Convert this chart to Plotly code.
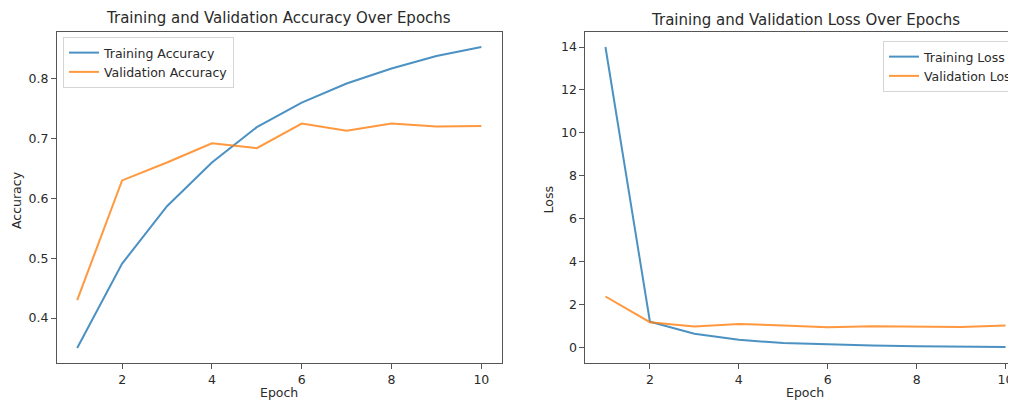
import plotly.graph_objects as go

epochs = [1, 2, 3, 4, 5, 6, 7, 8, 9, 10]
train_acc = [0.350, 0.491, 0.587, 0.660, 0.719, 0.760, 0.792, 0.817, 0.838, 0.853]
val_acc = [0.430, 0.630, 0.660, 0.692, 0.684, 0.725, 0.713, 0.725, 0.720, 0.721]
train_loss = [14.0, 1.20, 0.63, 0.35, 0.20, 0.13, 0.08, 0.05, 0.03, 0.02]
val_loss = [2.37, 1.17, 0.97, 1.09, 1.02, 0.94, 0.98, 0.96, 0.95, 1.02]

# The page body keeps an 8px margin, so the figure is drawn 8px right/down;
# layout numbers below are screen pixels, converted with OFF.
OFF = 8
W, H = 1016, 400
BLUE = "#1f77b4"
ORANGE = "#ff7f0e"
TXT = "#2a2a2a"
FONT = "DejaVu Sans"
TICK = 12.5
TITLE = 15

fig = go.Figure()
fig.add_trace(go.Scatter(x=epochs, y=train_acc, mode="lines", name="Training Accuracy",
                         line=dict(color=BLUE, width=2), opacity=0.8,
                         xaxis="x", yaxis="y", legend="legend"))
fig.add_trace(go.Scatter(x=epochs, y=val_acc, mode="lines", name="Validation Accuracy",
                         line=dict(color=ORANGE, width=2), opacity=0.8,
                         xaxis="x", yaxis="y", legend="legend"))
fig.add_trace(go.Scatter(x=epochs, y=train_loss, mode="lines", name="Training Loss",
                         line=dict(color=BLUE, width=2), opacity=0.8,
                         xaxis="x2", yaxis="y2", legend="legend2"))
fig.add_trace(go.Scatter(x=epochs, y=val_loss, mode="lines", name="Validation Loss",
                         line=dict(color=ORANGE, width=2), opacity=0.8,
                         xaxis="x2", yaxis="y2", legend="legend2"))

# screen geometry of the plotting areas
SL, ST, SB = 57, 32, 363
L = SL - OFF
T = ST - OFF
B = H - (SB - OFF)
R = 0
pw = W - L - R
ph = H - T - B

def px(sx):
    return (sx - OFF - L) / pw

def py(sy):
    return ((H - B) - (sy - OFF)) / ph

axis_common = dict(showline=True, mirror=True, linecolor="#555", linewidth=1.2,
                   ticks="outside", ticklen=5, tickcolor="#555", tickwidth=1,
                   showgrid=False, zeroline=False, automargin=False,
                   tickfont=dict(family=FONT, size=TICK, color=TXT))

def label(text, x, y, angle=0, size=TICK):
    return dict(text=text, xref="paper", yref="paper", x=px(x), y=py(y),
                xanchor="center", yanchor="middle", textangle=angle, showarrow=False,
                font=dict(family=FONT, size=size, color=TXT))

right_end = W + OFF  # screen x of the right edge of the figure
fig.update_layout(
    width=W, height=H,
    margin=dict(l=L, r=R, t=T, b=B),
    paper_bgcolor="white", plot_bgcolor="white",
    font=dict(family=FONT, color=TXT),
    xaxis=dict(domain=[0, px(502)], range=[0.55, 10.45], tickvals=[2, 4, 6, 8, 10],
               anchor="y", **axis_common),
    yaxis=dict(domain=[0, 1], range=[0.325, 0.878], tickvals=[0.4, 0.5, 0.6, 0.7, 0.8],
               ticktext=["0.4", "0.5", "0.6", "0.7", "0.8"],
               anchor="x", **axis_common),
    xaxis2=dict(domain=[px(586), 1], range=[0.55, 0.55 + (right_end - 586) / 44.5],
                tickvals=[2, 4, 6, 8, 10],
                anchor="y2", **axis_common),
    yaxis2=dict(domain=[0, 1], range=[-0.73, 14.7], tickvals=[0, 2, 4, 6, 8, 10, 12, 14],
                anchor="x2", **axis_common),
    legend=dict(x=px(63), y=py(37), xanchor="left", yanchor="top",
                bgcolor="rgba(255,255,255,0.8)", bordercolor="#d5d5d5", borderwidth=1,
                font=dict(family=FONT, size=TICK, color=TXT), tracegroupgap=0,
                itemwidth=30),
    legend2=dict(x=px(884), y=py(41), xanchor="left", yanchor="top",
                 bgcolor="rgba(255,255,255,0.8)", bordercolor="#d5d5d5", borderwidth=1,
                 font=dict(family=FONT, size=TICK, color=TXT), tracegroupgap=0,
                 itemwidth=30),
    showlegend=True,
    annotations=[
        label("Training and Validation Accuracy Over Epochs", 279, 18, size=TITLE),
        label("Training and Validation Loss Over Epochs", 806, 20, size=TITLE),
        label("Epoch", 279, 393),
        label("Epoch", 806, 392),
        label("Accuracy", 16, 200, angle=-90),
        label("Loss", 549, 200, angle=-90),
    ],
)

fig.write_html("out.html", config={"displayModeBar": False},
               post_script="document.documentElement.style.overflow='hidden';")
